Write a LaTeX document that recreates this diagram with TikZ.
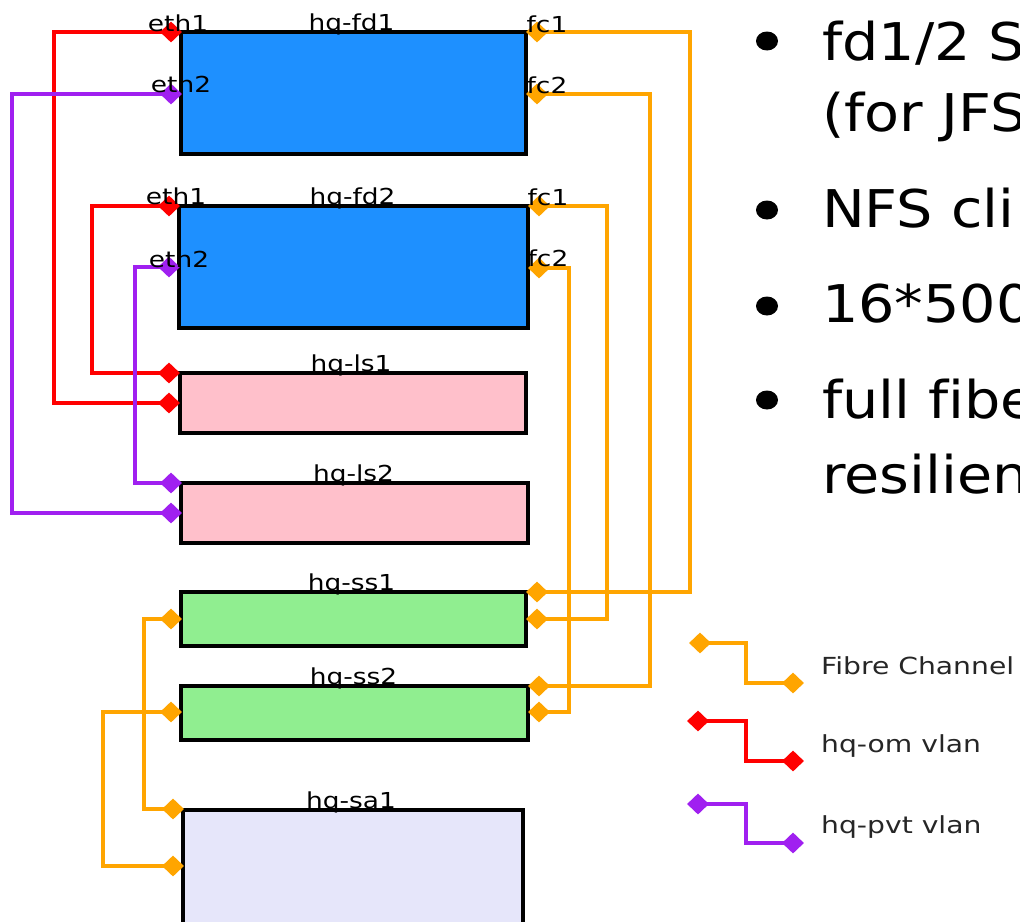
\documentclass[tikz,border=0pt]{standalone}
\usepackage{fontspec}
\setmainfont{DejaVu Sans}[FakeStretch=1.2]
\newfontfamily\slidefont{DejaVu Sans}[FakeStretch=1.1,Ligatures=NoCommon]
\usetikzlibrary{shapes.geometric}
\pgfdeclarelayer{bg}
\pgfsetlayers{bg,main}
\definecolor{fdblue}{HTML}{1E90FF}
\definecolor{lspink}{HTML}{FFC0CB}
\definecolor{ssgreen}{HTML}{90EE90}
\definecolor{salav}{HTML}{E6E6FA}
\definecolor{fcorange}{HTML}{FFA500}
\definecolor{omred}{HTML}{FF0000}
\definecolor{pvtpurple}{HTML}{A020F0}
\newcommand\mywire[4]{\draw[#1] (#2.center) -- (#2.center -| #3) -- (#3 |- #4.center) -- (#4.center);}
\begin{document}
\begin{tikzpicture}[x=1pt,y=-1pt,
  box/.style={draw=black,line width=3.2pt,inner sep=0pt},
  port/.style={diamond,fill=#1,draw=none,inner sep=0pt,minimum width=22pt,minimum height=21pt},
  lbl/.style={font=\fontsize{22}{25}\selectfont,inner sep=0pt,text=black},
  leglbl/.style={font=\fontsize{23.5}{26}\selectfont,inner sep=0pt,anchor=base west,text=black!85},
  bul/.style={font=\slidefont\fontsize{52}{62}\selectfont,inner sep=0pt,anchor=base west,text=black},
  wire/.style={line width=3.2pt,draw=#1}]
\useasboundingbox (0,0) rectangle (1020,921);
\clip (0,0) rectangle (1020,921);

% boxes
\node[box,fill=fdblue,minimum width=345pt,minimum height=122pt] (fd1) at (353.5,93) {};
\node[box,fill=fdblue,minimum width=349pt,minimum height=122pt] (fd2) at (353.5,267) {};
\node[box,fill=lspink,minimum width=346pt,minimum height=60pt] (ls1) at (353,403) {};
\node[box,fill=lspink,minimum width=347pt,minimum height=60pt] (ls2) at (354.5,513) {};
\node[box,fill=ssgreen,minimum width=345pt,minimum height=54pt] (ss1) at (353.5,619) {};
\node[box,fill=ssgreen,minimum width=347pt,minimum height=54pt] (ss2) at (354.5,713) {};
\node[box,fill=salav,minimum width=340pt,minimum height=150pt] (sa1) at (353,885) {};

% box labels
\node[lbl,anchor=base] (tfd1) at ([xshift=-2pt]fd1.north) {hq-fd1};
\node[lbl,anchor=base] (tfd2) at ([xshift=-1pt]fd2.north) {hq-fd2};
\node[lbl,anchor=base] (tls1) at ([xshift=-2pt]ls1.north) {hq-ls1};
\node[lbl,anchor=base] (tls2) at ([xshift=-1pt]ls2.north) {hq-ls2};
\node[lbl,anchor=base] (tss1) at ([xshift=-2pt]ss1.north) {hq-ss1};
\node[lbl,anchor=base] (tss2) at ([xshift=-1pt]ss2.north) {hq-ss2};
\node[lbl,anchor=base] (tsa1) at ([xshift=-2pt]sa1.north) {hq-sa1};

% ports
\node[port=omred] (fd1e1) at (171,32) {};
\node[port=pvtpurple] (fd1e2) at (171,94) {};
\node[port=fcorange] (fd1f1) at (537,32) {};
\node[port=fcorange] (fd1f2) at (537,94) {};
\node[port=omred] (fd2e1) at (169,206) {};
\node[port=pvtpurple] (fd2e2) at (169,267) {};
\node[port=fcorange] (fd2f1) at (539,206) {};
\node[port=fcorange] (fd2f2) at (539,268) {};
\node[port=omred] (ls1a) at (169,373) {};
\node[port=omred] (ls1b) at (169,403) {};
\node[port=pvtpurple] (ls2a) at (171,483) {};
\node[port=pvtpurple] (ls2b) at (171,513) {};
\node[port=fcorange] (ss1l) at (171,619) {};
\node[port=fcorange] (ss1a) at (537,592) {};
\node[port=fcorange] (ss1b) at (537,619) {};
\node[port=fcorange] (ss2l) at (171,712) {};
\node[port=fcorange] (ss2a) at (539,686) {};
\node[port=fcorange] (ss2b) at (539,712) {};
\node[port=fcorange] (sa1a) at (173,809) {};
\node[port=fcorange] (sa1b) at (173,866) {};

% port labels
\node[lbl,anchor=base] (lfd1e1) at (178,31) {eth1};
\node[lbl,anchor=base] (lfd1e2) at (181,92) {eth2};
\node[lbl,anchor=base] (lfd1f1) at (547,32) {fc1};
\node[lbl,anchor=base] (lfd1f2) at (547,93) {fc2};
\node[lbl,anchor=base] (lfd2e1) at (176,204) {eth1};
\node[lbl,anchor=base] (lfd2e2) at (179,267) {eth2};
\node[lbl,anchor=base] (lfd2f1) at (548,205) {fc1};
\node[lbl,anchor=base] (lfd2f2) at (548,266) {fc2};

% bend columns
\coordinate (xr1) at (54,0);
\coordinate (xr2) at (92,0);
\coordinate (xp1) at (12,0);
\coordinate (xp2) at (135,0);
\coordinate (xo1) at (690,0);
\coordinate (xo2) at (650,0);
\coordinate (xo3) at (607,0);
\coordinate (xo4) at (569,0);
\coordinate (xo5) at (144,0);
\coordinate (xo6) at (103,0);

\begin{pgfonlayer}{bg}
\mywire{wire=omred}{fd1e1}{xr1}{ls1b}
\mywire{wire=omred}{fd2e1}{xr2}{ls1a}
\mywire{wire=pvtpurple}{fd1e2}{xp1}{ls2b}
\mywire{wire=pvtpurple}{fd2e2}{xp2}{ls2a}
\mywire{wire=fcorange}{fd1f1}{xo1}{ss1a}
\mywire{wire=fcorange}{fd1f2}{xo2}{ss2a}
\mywire{wire=fcorange}{fd2f1}{xo3}{ss1b}
\mywire{wire=fcorange}{fd2f2}{xo4}{ss2b}
\mywire{wire=fcorange}{ss1l}{xo5}{sa1a}
\mywire{wire=fcorange}{ss2l}{xo6}{sa1b}
\end{pgfonlayer}

% legend
\coordinate (xl) at (746,0);
\node[port=fcorange] (lgfa) at (700,643) {};
\node[port=fcorange] (lgfb) at (793,683) {};
\node[port=omred] (lgra) at (698,721) {};
\node[port=omred] (lgrb) at (793,761) {};
\node[port=pvtpurple] (lgpa) at (698,804) {};
\node[port=pvtpurple] (lgpb) at (793,843) {};
\begin{pgfonlayer}{bg}
\mywire{wire=fcorange}{lgfa}{xl}{lgfb}
\mywire{wire=omred}{lgra}{xl}{lgrb}
\mywire{wire=pvtpurple}{lgpa}{xl}{lgpb}
\end{pgfonlayer}
\node[leglbl] (tlgf) at (821,674) {Fibre Channel};
\node[leglbl] (tlgr) at (821,752) {hq-om vlan};
\node[leglbl] (tlgp) at (821,833) {hq-pvt vlan};

% bullet list
\fill (767,41) ellipse (11pt and 9.5pt);
\fill (767,210) ellipse (11pt and 9.5pt);
\fill (767,306) ellipse (11pt and 9.5pt);
\fill (767,400) ellipse (11pt and 9.5pt);
\node[bul] (b1a) at (822,60) {fd1/2 S};
\node[bul] (b1b) at (822,131) {(for JFS};
\node[bul] (b2) at (822,227) {NFS cli};
\node[bul] (b3) at (822,322) {16*500};
\node[bul] (b4a) at (822,418) {full fibe};
\node[bul] (b4b) at (822,493) {resilien};
\end{tikzpicture}
\end{document}
